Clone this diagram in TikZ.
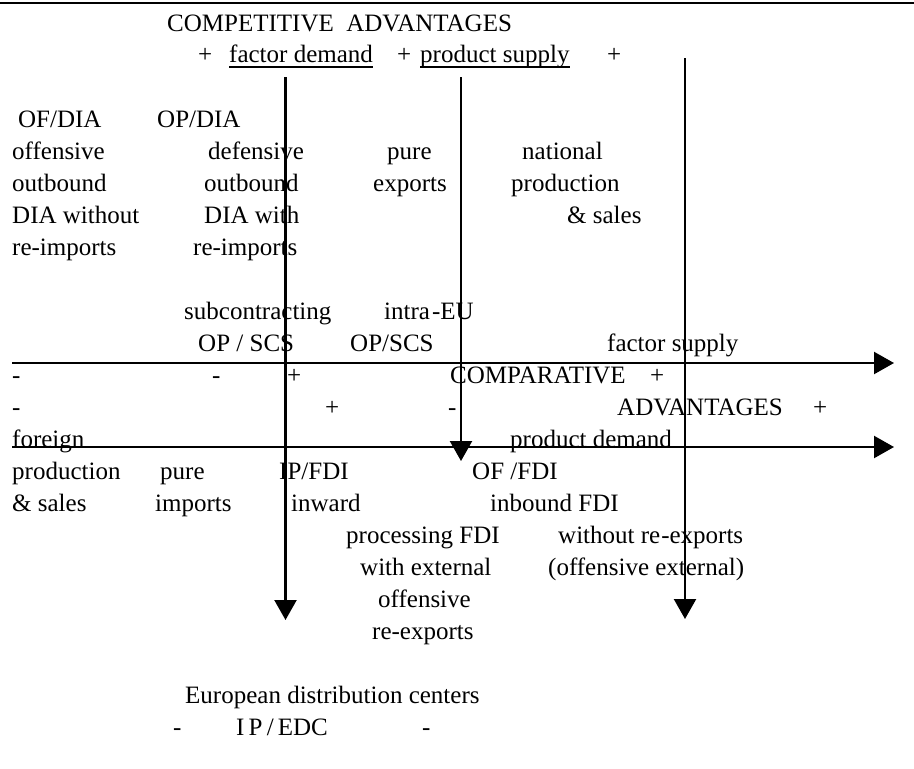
\documentclass[tikz,border=0pt]{standalone}
\usepackage{fontspec}
\setmainfont{Liberation Serif}
\usetikzlibrary{arrows.meta}
\tikzset{
  txt/.style={anchor=base west, inner sep=0pt, font=\fontsize{25}{30}\selectfont},
  axis/.style={line width=2.3pt, -{Triangle[length=20pt,width=22pt]}},
  rule/.style={line width=2.5pt},
  uline/.style={line width=1.5pt}
}
\begin{document}
\begin{tikzpicture}[x=1pt,y=-1pt]
\useasboundingbox (0,0) rectangle (914,769);
% top rule
\coordinate (rl) at (0,3);
\coordinate (rr) at (914,3);
\draw[rule] (rl) -- (rr);
% header
\node[txt] (comp) at (167,31) {COMPETITIVE\ \ ADVANTAGES};
\node[txt] (p1) at (198,62) {+};
\node[txt] (fd) at (229,62) {factor demand};
\node[txt] (p2) at (397,62) {+};
\node[txt] (ps) at (420,62) {product supply};
\node[txt] (p3) at (607,62) {+};
\draw[uline] ([yshift=-5pt]fd.base west) -- ([yshift=-5pt]fd.base east);
\draw[uline] ([yshift=-5pt]ps.base west) -- ([yshift=-5pt]ps.base east);
% upper left block
\node[txt] (ofdia) at (18,127) {OF/DIA};
\node[txt] (opdia) at (157,127) {OP/DIA};
\node[txt] (off1) at (12,159) {offensive};
\node[txt] (def1) at (208,159) {defensive};
\node[txt] (pure1) at (387,159) {pure};
\node[txt] (nat) at (522,159) {national};
\node[txt] (out1) at (12,191) {outbound};
\node[txt] (out2) at (204,191) {outbound};
\node[txt] (exp) at (373,191) {exports};
\node[txt] (prod1) at (511,191) {production};
\node[txt] (diaw) at (12,223) {DIA without};
\node[txt] (diaw2) at (204,223) {DIA with};
\node[txt] (sal1) at (567,223) {\& sales};
\node[txt] (rei1) at (12,255) {re-imports};
\node[txt] (rei2) at (193,255) {re-imports};
% subcontracting
\node[txt] (subc) at (184,319) {subcontracting};
\node[txt] (intra) at (384,319) {intra\kern2pt-EU};
\node[txt] (opscs1) at (198,351) {OP / SCS};
\node[txt] (opscs2) at (350,351) {OP/SCS};
\node[txt] (fsup) at (607,351) {factor supply};
% signs rows
\node[txt] (m1) at (12,383) {-};
\node[txt] (m2) at (212,383) {-};
\node[txt] (pl1) at (287,383) {+};
\node[txt] (compa) at (450,383) {COMPARATIVE};
\node[txt] (pl2) at (650,383) {+};
\node[txt] (m3) at (12,415) {-};
\node[txt] (pl3) at (325,415) {+};
\node[txt] (m4) at (448,415) {-};
\node[txt] (adv) at (617,415) {ADVANTAGES};
\node[txt] (pl4) at (813,415) {+};
% lower block
\node[txt] (forg) at (12,447) {foreign};
\node[txt] (pdem) at (510,447) {product demand};
\node[txt] (prod2) at (12,479) {production};
\node[txt] (pure2) at (160,479) {pure};
\node[txt] (ipfdi) at (279,479) {IP/FDI};
\node[txt] (offdi) at (472,479) {OF /FDI};
\node[txt] (sal2) at (12,511) {\& sales};
\node[txt] (imp) at (155,511) {imports};
\node[txt] (inw) at (291,511) {inward};
\node[txt] (inb) at (490,511) {inbound FDI};
\node[txt] (proc) at (346,543) {processing FDI};
\node[txt] (wre) at (558,543) {without re\kern1pt-exports};
\node[txt] (wext) at (360,575) {with external};
\node[txt] (oext) at (548,575) {(offensive external)};
\node[txt] (off2) at (378,607) {offensive};
\node[txt] (reex) at (372,639) {re-exports};
% bottom
\node[txt] (edc) at (185,703) {European distribution centers};
\node[txt] (m5) at (173,735) {-};
\node[txt] (ipedc) at (236,735) {I\,P\,/\,EDC};
\node[txt] (m6) at (422,735) {-};
% axes
\coordinate (h1s) at (12,363);
\coordinate (h1e) at (894,363);
\coordinate (h2s) at (12,447);
\coordinate (h2e) at (894,447);
\coordinate (v1s) at (285.5,77);
\coordinate (v1e) at (285.5,620);
\coordinate (v2s) at (461,77);
\coordinate (v2e) at (461,461);
\coordinate (v3s) at (685,58);
\coordinate (v3e) at (685,619);
\draw[axis] (h1s) -- (h1e);
\draw[axis] (h2s) -- (h2e);
\draw[axis] (v1s) -- (v1e);
\draw[axis] (v2s) -- (v2e);
\draw[axis] (v3s) -- (v3e);
\end{tikzpicture}
\end{document}
